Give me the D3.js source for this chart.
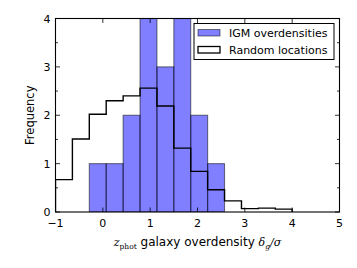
<!DOCTYPE html>
<html>
<head>
<meta charset="utf-8">
<script src="https://cdn.jsdelivr.net/npm/d3@7"></script>
<style>
  body { margin:0; background:#fff; }
  svg { display:block; }
  text { font-family: "DejaVu Sans", sans-serif; fill:#000; }
</style>
</head>
<body>
<svg id="chart" width="357" height="268"></svg>
<script>
// histogram bin edges (width 5/14)
var binEdges = [-1, -0.643, -0.286, 0.071, 0.429, 0.786, 1.143, 1.5, 1.857, 2.214, 2.571, 2.929, 3.286, 3.643, 4.0];
// IGM overdensities counts, starting at bin index 2
var igmStart = 2;
var igmCounts = [1, 1, 2, 5, 3, 6, 2, 1];
// random locations (normalised frequency)
var randomCounts = [0.67, 1.51, 2.02, 2.30, 2.40, 2.56, 2.19, 1.32, 0.84, 0.46, 0.23, 0.07, 0.08, 0.06];
var xTicks = [-1, 0, 1, 2, 3, 4, 5];
var yTicks = [0, 1, 2, 3, 4];
var yMinor = [0.5, 1.5, 2.5, 3.5];
var legendLabels = ["IGM overdensities", "Random locations"];

var L = 55.5, R = 339.5, T = 18.5, B = 212;
var svg = d3.select("#chart");
var x = d3.scaleLinear().domain([-1, 5]).range([L, R]);
var y = d3.scaleLinear().domain([0, 4]).range([B, T]);

svg.append("clipPath").attr("id", "clip")
  .append("rect").attr("x", L).attr("y", T).attr("width", R - L).attr("height", B - T);

var plot = svg.append("g").attr("clip-path", "url(#clip)");

// blue bars
var igmData = igmCounts.map(function(v, i){
  return {x0: binEdges[igmStart + i], x1: binEdges[igmStart + i + 1], v: v};
});
plot.selectAll("rect.igm").data(igmData).enter().append("rect")
  .attr("class", "igm")
  .attr("x", function(d){ return x(d.x0); })
  .attr("y", function(d){ return y(d.v); })
  .attr("width", function(d){ return x(d.x1) - x(d.x0); })
  .attr("height", function(d){ return y(0) - y(d.v); })
  .attr("style", "fill:#0000ff;fill-opacity:0.5;stroke:#000;stroke-opacity:0.5;stroke-width:1.1;");

// step outline for random locations
var pts = [[binEdges[0], 0]];
randomCounts.forEach(function(v, i){
  pts.push([binEdges[i], v]);
  pts.push([binEdges[i + 1], v]);
});
pts.push([binEdges[binEdges.length - 1], 0]);
plot.append("path")
  .attr("d", d3.line().x(function(d){ return x(d[0]); }).y(function(d){ return y(d[1]); })(pts))
  .attr("style", "fill:none;stroke:#000;stroke-width:1.4;");

// axes frame
svg.append("rect").attr("x", L).attr("y", T).attr("width", R - L).attr("height", B - T)
  .attr("style", "fill:none;stroke:#000;stroke-width:1.1;");

// ticks (inward, all sides)
var ticks = svg.append("g").attr("style", "stroke:#000;stroke-width:0.8;");
xTicks.forEach(function(t){
  ticks.append("line").attr("x1", x(t)).attr("x2", x(t)).attr("y1", B).attr("y2", B - 4.5);
  ticks.append("line").attr("x1", x(t)).attr("x2", x(t)).attr("y1", T).attr("y2", T + 4.5);
});
yTicks.forEach(function(t){
  ticks.append("line").attr("x1", L).attr("x2", L + 4.5).attr("y1", y(t)).attr("y2", y(t));
  ticks.append("line").attr("x1", R).attr("x2", R - 4.5).attr("y1", y(t)).attr("y2", y(t));
});
yMinor.forEach(function(t){
  ticks.append("line").attr("x1", L).attr("x2", L + 2.5).attr("y1", y(t)).attr("y2", y(t));
  ticks.append("line").attr("x1", R).attr("x2", R - 2.5).attr("y1", y(t)).attr("y2", y(t));
});

// tick labels
svg.selectAll("text.xt").data(xTicks).enter().append("text")
  .attr("x", function(d){ return x(d); }).attr("y", B + 15)
  .attr("text-anchor", "middle").attr("font-size", "11px")
  .text(function(d){ return d < 0 ? "\u2212" + Math.abs(d) : d; });
svg.selectAll("text.yt").data(yTicks).enter().append("text")
  .attr("x", L - 5).attr("y", function(d){ return y(d) + 4; })
  .attr("text-anchor", "end").attr("font-size", "11px")
  .text(function(d){ return d; });

// axis labels
svg.append("text").attr("transform", "translate(34," + ((T + B) / 2) + ") rotate(-90)")
  .attr("text-anchor", "middle").attr("font-size", "11.5px").text("Frequency");

var xl = svg.append("text").attr("x", (L + R) / 2).attr("y", 246)
  .attr("text-anchor", "middle").attr("font-size", "12px");
xl.append("tspan").attr("style", "font-family:'DejaVu Serif',serif;font-style:italic;font-size:11px;").text("z");
xl.append("tspan").attr("style", "font-family:'DejaVu Serif',serif;font-size:7.5px;").attr("dy", 2.5).text("phot");
xl.append("tspan").attr("dy", -2.5).text(" galaxy overdensity ");
xl.append("tspan").attr("style", "font-family:'DejaVu Serif',serif;font-style:italic;font-size:11px;").text("\u03b4");
xl.append("tspan").attr("style", "font-family:'DejaVu Serif',serif;font-style:italic;font-size:7.5px;").attr("dy", 2.5).text("g");
xl.append("tspan").attr("style", "font-family:'DejaVu Serif',serif;font-style:italic;font-size:11px;").attr("dy", -2.5).text("/\u03c3");

// legend
var lg = svg.append("g");
lg.append("rect").attr("x", 194).attr("y", 23.5).attr("width", 140).attr("height", 36)
  .attr("style", "fill:#fff;stroke:#000;stroke-width:1;");
lg.append("rect").attr("x", 198).attr("y", 29.5).attr("width", 22).attr("height", 6.5)
  .attr("style", "fill:#0000ff;fill-opacity:0.5;stroke:#000;stroke-opacity:0.5;stroke-width:1;");
lg.append("rect").attr("x", 198).attr("y", 46.5).attr("width", 22).attr("height", 6.5)
  .attr("style", "fill:none;stroke:#000;stroke-width:1.3;");
lg.selectAll("text").data(legendLabels).enter().append("text")
  .attr("x", 229).attr("y", function(d, i){ return 37 + i * 17; })
  .attr("font-size", "11px").text(function(d){ return d; });
</script>
</body>
</html>
